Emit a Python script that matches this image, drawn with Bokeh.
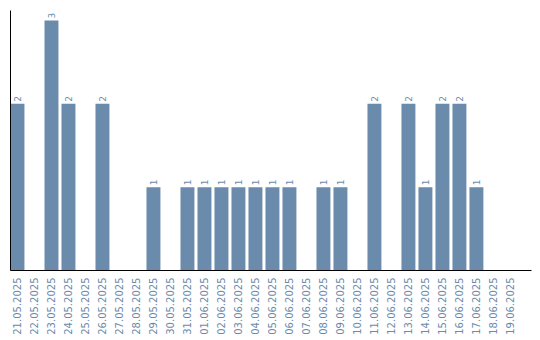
import math
from bokeh.plotting import figure
from bokeh.models import ColumnDataSource, Range1d, FixedTicker
from bokeh.core.properties import value
from bokeh.embed import file_html
from bokeh.resources import INLINE

dates = ["21.05.2025", "22.05.2025", "23.05.2025", "24.05.2025", "25.05.2025",
         "26.05.2025", "27.05.2025", "28.05.2025", "29.05.2025", "30.05.2025",
         "31.05.2025", "01.06.2025", "02.06.2025", "03.06.2025", "04.06.2025",
         "05.06.2025", "06.06.2025", "07.06.2025", "08.06.2025", "09.06.2025",
         "10.06.2025", "11.06.2025", "12.06.2025", "13.06.2025", "14.06.2025",
         "15.06.2025", "16.06.2025", "17.06.2025", "18.06.2025", "19.06.2025"]
counts = [2, 0, 3, 2, 0, 2, 0, 0, 1, 0,
          1, 1, 1, 1, 1, 1, 1, 0, 1, 1,
          0, 2, 0, 2, 1, 2, 2, 1, 0, 0]

COLOR = "#6A8BAB"
idx = list(range(len(dates)))

src = ColumnDataSource(dict(x=idx, y=counts))
lab_x = [i for i, c in zip(idx, counts) if c > 0]
lab_y = [c for c in counts if c > 0]
lab_t = [str(c) for c in lab_y]
lsrc = ColumnDataSource(dict(x=lab_x, y=lab_y, t=lab_t))

p = figure(frame_width=521, frame_height=260, output_backend="svg", toolbar_location=None,
           x_range=Range1d(-0.41, 30.24), y_range=Range1d(0, 3.12),
           min_border_left=10, min_border_top=10, min_border_right=9,
           min_border_bottom=0)
p.outline_line_color = None
p.xgrid.grid_line_color = None
p.ygrid.grid_line_color = None

p.vbar(x="x", top="y", bottom=0, width=0.82, source=src,
       fill_color=COLOR, line_color=None)
p.text(x="x", y="y", text="t", source=lsrc, angle=math.pi / 2,
       text_align="left", text_baseline="middle", y_offset=-2,
       text_color=COLOR, text_font=value("DejaVu Sans"), text_font_size="9px")

xa = p.xaxis[0]
xa.ticker = FixedTicker(ticks=idx)
xa.major_label_overrides = {i: d for i, d in zip(idx, dates)}
xa.major_label_orientation = math.pi / 2
xa.major_label_text_color = COLOR
xa.major_label_text_font = "DejaVu Sans"
xa.major_label_text_font_size = "10px"
xa.major_tick_line_color = None
xa.minor_tick_line_color = None
xa.major_tick_out = 0
xa.major_tick_in = 0
xa.major_label_standoff = 7
xa.axis_line_color = "black"
xa.axis_line_width = 1

ya = p.yaxis[0]
ya.ticker = FixedTicker(ticks=[])
ya.major_tick_line_color = None
ya.minor_tick_line_color = None
ya.major_tick_out = 0
ya.major_tick_in = 0
ya.major_label_standoff = 0
ya.axis_line_color = "black"

open("out.html", "w").write(file_html(p, INLINE))
